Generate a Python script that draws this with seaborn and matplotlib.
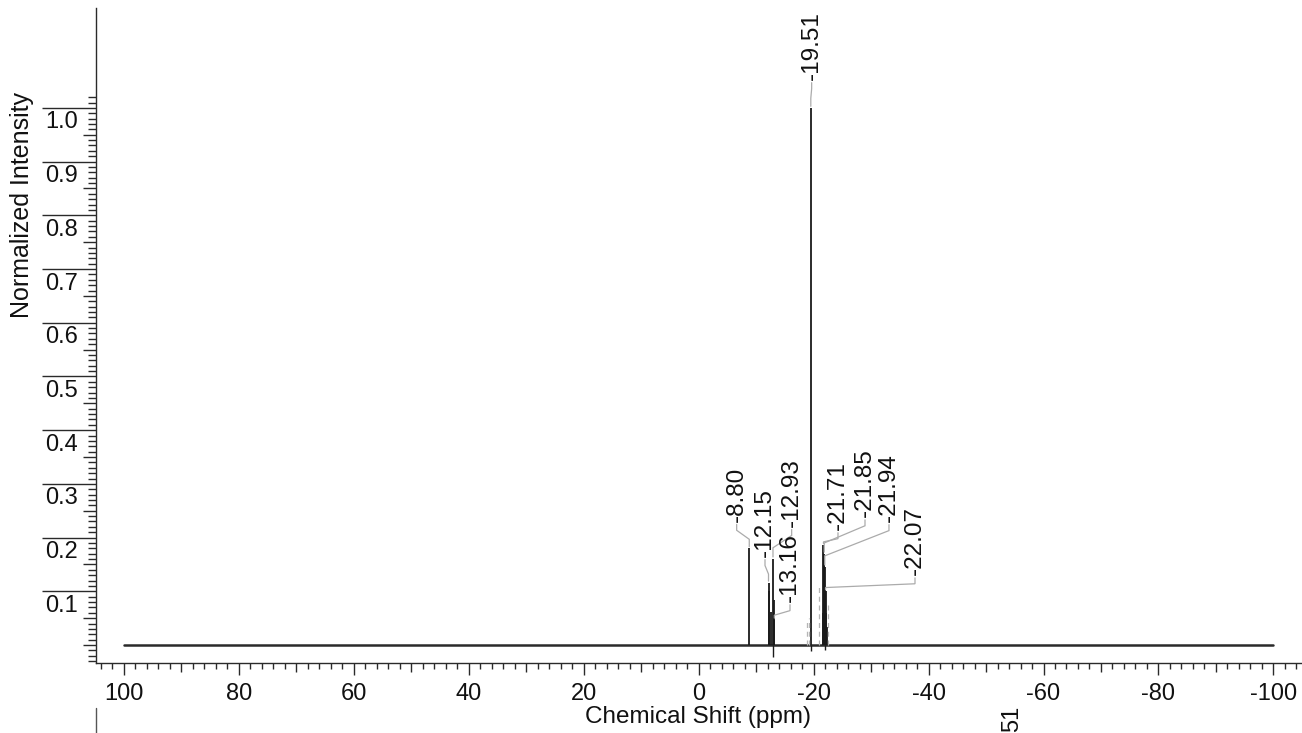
import numpy as np
import pandas as pd
import matplotlib
matplotlib.use("Agg")
import matplotlib.pyplot as plt
import matplotlib.transforms as mtransforms
from matplotlib.lines import Line2D
import seaborn as sns

# ---------------- data ----------------
baseline_ppm = [100.0, -100.0]
baseline_int = [0.0, 0.0]

peak_ppm = [-8.80, -12.15, -12.30, -12.58, -12.93, -13.05, -13.16, -19.51,
            -21.60, -21.71, -21.78, -21.85, -21.94, -22.00, -22.07, -22.15, -22.30]
peak_int = [0.18, 0.116, 0.10, 0.062, 0.161, 0.084, 0.047, 1.0,
            0.06, 0.186, 0.15, 0.17, 0.146, 0.10, 0.10, 0.06, 0.034]

dip_ppm = [-12.93, -19.51, -21.90]
dip_int = [-0.022, -0.012, -0.010]

sat_ppm = [-18.90, -19.25, -21.00, -22.56]
sat_int = [0.045, 0.050, 0.110, 0.080]

label_text = ["-8.80", "-12.15", "-12.93", "-13.16", "-19.51",
              "-21.71", "-21.85", "-21.94", "-22.07"]
label_peak_ppm = [-8.80, -12.15, -12.93, -13.16, -19.51, -21.71, -21.85, -21.94, -22.07]
label_peak_int = [0.18, 0.116, 0.161, 0.047, 1.0, 0.186, 0.17, 0.146, 0.10]

xtick_values = [100, 80, 60, 40, 20, 0, -20, -40, -60, -80, -100]
xtick_labels = ["100", "80", "60", "40", "20", "0", "-20", "-40", "-60", "-80", "-100"]
ytick_values = [0.1, 0.2, 0.3, 0.4, 0.5, 0.6, 0.7, 0.8, 0.9, 1.0]
ytick_labels = ["0.1", "0.2", "0.3", "0.4", "0.5", "0.6", "0.7", "0.8", "0.9", "1.0"]

# ---------------- layout (annotation anchors, not data) ----------------
label_anchor_ppm = [-6.61, -11.54, -16.18, -15.89, -19.66, -24.24, -28.94, -33.11, -37.64]
label_anchor_int = [0.2296, 0.164, 0.220, 0.080, 1.052, 0.214, 0.238, 0.229, 0.130]

# ---------------- style ----------------
sns.set_theme(style="ticks")
plt.rcParams['font.family'] = ['Liberation Sans', 'DejaVu Sans']
plt.rcParams['axes.unicode_minus'] = False

W, H = 1302, 733
fig = plt.figure(figsize=(W / 100, H / 100), dpi=100)
ax = fig.add_axes([96 / W, 70 / H, 1 - 96 / W, (663 - 8) / H])
ax.set_facecolor("white")

dark = "#2a2a2a"
txtc = "#111111"

# baseline
base_df = pd.DataFrame({"ppm": baseline_ppm, "intensity": baseline_int})
sns.lineplot(data=base_df, x="ppm", y="intensity", ax=ax, color=dark,
             linewidth=1.8, sort=False)

# peaks
ax.vlines(peak_ppm, 0, peak_int, colors="#1a1a1a", linewidth=1.3)
ax.vlines(dip_ppm, dip_int, 0, colors="#1a1a1a", linewidth=1.0)
ax.vlines(sat_ppm, 0, sat_int, colors="#b5b5b5", linewidth=0.9, linestyles=(0, (4, 3)))

ax.set_xlim(104.87, -104.98)
ax.set_ylim(-0.0335, 1.186)

# leader lines + labels
for txt, pp, ph, lp, lh in zip(label_text, label_peak_ppm, label_peak_int,
                               label_anchor_ppm, label_anchor_int):
    start = lh - 0.005
    bend1 = lh - 0.016
    bend2 = ph + min(0.02, max(0.0, (bend1 - ph) / 2))
    end = ph + 0.003
    ax.plot([lp, lp, pp, pp], [start, bend1, bend2, end], color="#ababab",
            linewidth=0.9, solid_joinstyle="miter")
    ax.text(lp, lh, txt, rotation=90, ha="center", va="bottom", fontsize=17.5,
            color=txtc)

# x ticks
minor_x = [v for v in range(104, -105, -2) if v % 10 != 0]
medium_x = [v for v in range(100, -101, -10) if v % 20 != 0]
ax.set_xticks(xtick_values)
ax.set_xticklabels(xtick_labels, fontsize=17, color=txtc)
ax.set_xticks(minor_x, minor=True)
ax.tick_params(axis="x", which="major", direction="out", length=8.6, width=1.0,
               color=dark, pad=6)
ax.tick_params(axis="x", which="minor", direction="out", length=4.3, width=1.0,
               color=dark)
secx = ax.secondary_xaxis("bottom")
secx.set_xticks(medium_x)
secx.set_xticklabels([])
secx.tick_params(axis="x", direction="out", length=6.5, width=1.0, color=dark)
secx.spines["bottom"].set_visible(False)

# y ticks
ax.set_yticks(ytick_values)
ax.set_yticklabels([])
minor_y = [round(v / 100, 2) for v in range(-3, 103) if v % 5 != 0]
medium_y = [round(v / 100, 2) for v in range(0, 100, 5) if v % 10 != 0 or v == 0]
ax.set_yticks(minor_y, minor=True)
ax.tick_params(axis="y", which="major", direction="out", length=39, width=1.0,
               color=dark)
ax.tick_params(axis="y", which="minor", direction="out", length=5.8, width=1.0,
               color=dark)
secy = ax.secondary_yaxis("left")
secy.set_yticks(medium_y)
secy.set_yticklabels([])
secy.tick_params(axis="y", direction="out", length=9.4, width=1.0, color=dark)
secy.spines["left"].set_visible(False)

ytrans = mtransforms.blended_transform_factory(ax.transAxes, ax.transData) + \
    mtransforms.ScaledTranslation(-18 / 100, -14.5 / 100, fig.dpi_scale_trans)
for v, lab in zip(ytick_values, ytick_labels):
    ax.text(0, v, lab, transform=ytrans, ha="right", va="center", fontsize=17,
            color=txtc)

for s in ["top", "right"]:
    ax.spines[s].set_visible(False)
for s in ["left", "bottom"]:
    ax.spines[s].set_color(dark)
    ax.spines[s].set_linewidth(1.0)

ax.set_xlabel("")
ax.set_ylabel("")
fig.text(22 / W, 1 - 205 / H, "Normalized Intensity", rotation=90, ha="center",
         va="center", fontsize=18, color=txtc)
fig.text(698 / W, 1 - 717 / H, "Chemical Shift (ppm)", ha="center", va="center",
         fontsize=17.5, color=txtc)

# fragments of the neighbouring figure visible at the bottom edge
fig.add_artist(Line2D([96 / W, 96 / W], [0, 25 / H], color="#555555", linewidth=1.0))
fig.text(1012 / W, 0.5 / H, "51", rotation=90, ha="center", va="bottom",
         fontsize=17, color=txtc)

fig.savefig("out.png", dpi=100)
